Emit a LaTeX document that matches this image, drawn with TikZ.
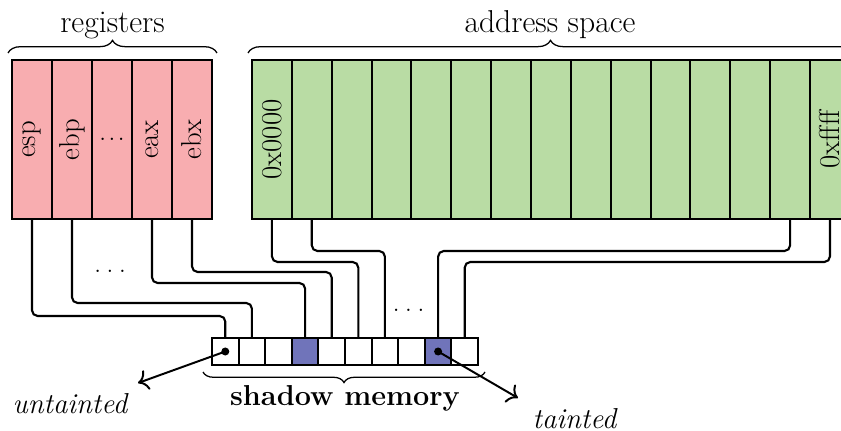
\documentclass[tikz,border=0pt]{standalone}
\usepackage{graphicx}
\usetikzlibrary{decorations.pathreplacing,arrows.meta}
\definecolor{regpink}{RGB}{248,173,176}
\definecolor{addrgreen}{RGB}{185,220,164}
\definecolor{taintblue}{RGB}{112,116,186}
\newcommand\bigfont{\fontsize{20.5}{24}\selectfont}
\newcommand\titlefont{\fontsize{22.5}{26}\selectfont}
\begin{document}
\begin{tikzpicture}[x=0.025cm,y=-0.025cm,
  every node/.style={font=\bigfont},
  regcell/.style={draw, line width=1.4pt, fill=regpink, minimum width=1cm, minimum height=3.975cm, inner sep=0pt, outer sep=0pt},
  addrcell/.style={draw, line width=1.4pt, fill=addrgreen, minimum width=0.9965cm, minimum height=3.975cm, inner sep=0pt, outer sep=0pt},
  shcell/.style={draw, line width=1.4pt, minimum size=0.665cm, inner sep=0pt, outer sep=0pt},
  outerbox/.style={line width=2pt},
  wire/.style={line width=1.5pt, rounded corners=4pt},
  dotnode/.style={circle, fill=black, inner sep=0pt, minimum size=0.2cm},
  arrowline/.style={line width=1.4pt, -{To[scale=1.5]}},
  bracedeco/.style={line width=0.9pt, decorate, decoration={brace, amplitude=#1}},
  titlenode/.style={anchor=base, font=\titlefont},
  labelit/.style={anchor=base, font=\bigfont\itshape},
  dotsnode/.style={inner sep=0pt}
]
\useasboundingbox (0,0) rectangle (841,431);
\clip (0,0) rectangle (841,431);

% registers
\node[regcell] (r0) at (32,139.5) {\rotatebox{90}{esp}};
\node[regcell] (r1) at (72,139.5) {\rotatebox{90}{ebp}};
\node[regcell] (r2) at (112,139.5) {.\kern0.07em.\kern0.07em.};
\node[regcell] (r3) at (152,139.5) {\rotatebox{90}{eax}};
\node[regcell] (r4) at (192,139.5) {\rotatebox{90}{ebx}};
\draw[outerbox] (r0.north west) rectangle (r4.south east);

% address space
\node[addrcell] (a0) at (271.93,139.5) {\rotatebox{90}{0x0000}};
\foreach \i in {1,...,13}
  \node[addrcell] (a\i) at ({271.93+39.86*\i},139.5) {};
\node[addrcell] (a14) at ({271.93+39.86*14},139.5) {\rotatebox{90}{0xffff}};
\draw[outerbox] (a0.north west) rectangle (a14.south east);

% braces and titles
\draw[bracedeco=9pt] (8,53) -- (217,53);
\node[titlenode] (treg) at (112.5,32.5) {registers};
\draw[bracedeco=9pt] (248,53) -- (853,53);
\node[titlenode] (taddr) at (550,32.5) {address space};

% shadow memory
\foreach \i/\c in {0/white,1/white,2/white,3/taintblue,4/white,5/white,6/white,7/white,8/taintblue,9/white}
  \node[shcell, fill=\c] (s\i) at ({225.3+26.6*\i},351.5) {};
\draw[bracedeco=7.5pt, decoration={mirror}] (203,372) -- (485,372);
\node[anchor=base, font=\bigfont\bfseries] (lsm) at (345,406) {shadow memory};

% wire levels
\coordinate (h0) at (0,316);
\coordinate (h1) at (0,303);
\coordinate (h3) at (0,283);
\coordinate (h4) at (0,272);
\coordinate (g0) at (0,262);
\coordinate (g1) at (0,251);

% register wires
\draw[wire] (r0.south) -- (r0.south |- h0) -- (s0.north |- h0) -- (s0.north);
\draw[wire] (r1.south) -- (r1.south |- h1) -- (s1.north |- h1) -- (s1.north);
\draw[wire] (r3.south) -- (r3.south |- h3) -- (s3.north |- h3) -- (s3.north);
\draw[wire] (r4.south) -- (r4.south |- h4) -- (s4.north |- h4) -- (s4.north);
% address wires
\draw[wire] (a0.south) -- (a0.south |- g0) -- (s5.north |- g0) -- (s5.north);
\draw[wire] (a1.south) -- (a1.south |- g1) -- (s6.north |- g1) -- (s6.north);
\draw[wire] (a13.south) -- (a13.south |- g1) -- (s8.north |- g1) -- (s8.north);
\draw[wire] (a14.south) -- (a14.south |- g0) -- (s9.north |- g0) -- (s9.north);

% ellipses
\node[dotsnode] (dr) at (110,271.5) {.\kern0.18em.\kern0.18em.};
\node[dotsnode] (da) at (408.5,310) {.\kern0.18em.\kern0.18em.};

% taint markers
\node[dotnode] (d0) at (s0.center) {};
\node[dotnode] (d8) at (s8.center) {};
\coordinate (ut) at (138,383);
\coordinate (tt) at (518,398);
\draw[arrowline] (d0.center) -- (ut);
\draw[arrowline] (d8.center) -- (tt);
\node[labelit] (lu) at (70,413) {untainted};
\node[labelit] (lt) at (574.5,429) {tainted};
\end{tikzpicture}
\end{document}
